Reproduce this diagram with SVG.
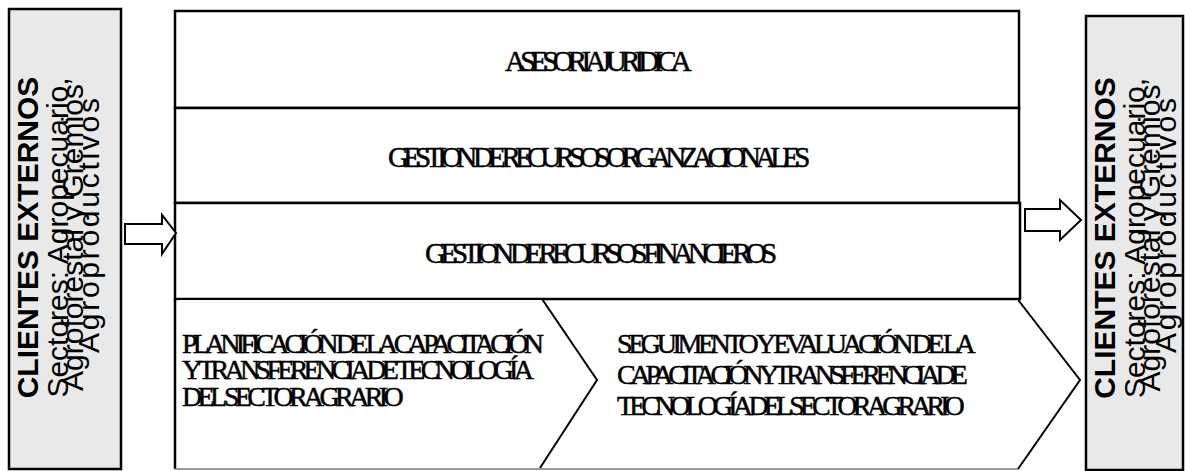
<svg xmlns="http://www.w3.org/2000/svg" width="1185" height="471" viewBox="0 0 1185 471">
  <style>
    .side { fill: #e9e9e9; stroke: #000; stroke-width: 2.5; }
    .frame { fill: #fff; stroke: #000; stroke-width: 2.5; }
    .chev { fill: #fff; stroke: #000; stroke-width: 2; }
    .base { stroke: #777; stroke-width: 1.5; fill: none; }
    .arrow { fill: #fff; stroke: #000; stroke-width: 2; stroke-linejoin: miter; }
    .proc { font-family: "Liberation Serif", "Times New Roman", serif; font-size: 29px; letter-spacing: -5.8px; fill: #000; stroke: #000; stroke-width: 0.5; }
    .step { font-family: "Liberation Serif", "Times New Roman", serif; font-size: 28px; fill: #000; stroke: #000; stroke-width: 0.5; }
    .title { font-family: "Liberation Sans", Arial, sans-serif; font-size: 30px; font-weight: bold; fill: #000; }
    .sub { font-family: "Liberation Sans", Arial, sans-serif; font-size: 30px; fill: #000; }
  </style>

  <!-- external clients, input side (text runs bottom to top; x = -screen y) -->
  <g id="clientes-entrada">
    <rect class="side" x="9" y="9" width="112" height="460"/>
    <g transform="rotate(-90)">
      <text class="title" x="-237.5" y="38" text-anchor="middle">CLIENTES EXTERNOS</text>
      <text class="sub" x="-237.5" y="68" text-anchor="middle">Sectores: Agropecuario,</text>
      <text class="sub" x="-237.5" y="83" text-anchor="middle">Agroforestal y Gremios</text>
      <text class="sub" x="-353" y="99" textLength="255" lengthAdjust="spacing">Agroproductivos</text>
    </g>
  </g>

  <!-- external clients, output side -->
  <g id="clientes-salida">
    <rect class="side" x="1086" y="16" width="97" height="454"/>
    <g transform="translate(1077,0) rotate(-90)">
      <text class="title" x="-238" y="38" text-anchor="middle">CLIENTES EXTERNOS</text>
      <text class="sub" x="-238" y="68" text-anchor="middle">Sectores: Agropecuario,</text>
      <text class="sub" x="-238" y="83" text-anchor="middle">Agroforestal y Gremios</text>
      <text class="sub" x="-353" y="99" textLength="255" lengthAdjust="spacing">Agroproductivos</text>
    </g>
  </g>

  <!-- support processes -->
  <g id="asesoria-juridica">
    <rect class="frame" x="175" y="11" width="844" height="97"/>
    <text class="proc" x="505" y="71" letter-spacing="-5.35">ASESORIA JURIDICA</text>
  </g>
  <g id="recursos-organizacionales">
    <rect class="frame" x="175" y="108" width="844" height="95"/>
    <text class="proc" x="388" y="167">GESTION DE RECURSOS ORGANZACIONALES</text>
  </g>
  <g id="recursos-financieros">
    <rect class="frame" x="175" y="203" width="845" height="96"/>
    <text class="proc" x="425" y="263">GESTION DE RECURSOS FINANCIEROS</text>
  </g>

  <!-- core process chain -->
  <g id="planificacion">
    <path class="chev" d="M175,299 L542,299 L597,380 L540,468"/>
    <line x1="175" y1="299" x2="175" y2="469" stroke="#000" stroke-width="2.5"/>
    <text class="step" x="182" y="353" letter-spacing="-4.85">PLANIFICACIÓN DE LA CAPACITACIÓN</text>
    <text class="step" x="182" y="379" letter-spacing="-4.72">Y TRANSFERENCIA DE TECNOLOGÍA</text>
    <text class="step" x="182" y="406" letter-spacing="-4.62">DEL SECTOR AGRARIO</text>
  </g>
  <g id="seguimiento">
    <path class="chev" d="M1019,301 L1080,380 L1018,469"/>
    <line x1="1019" y1="299" x2="1019" y2="302" stroke="#000" stroke-width="2"/>
    <text class="step" x="617" y="353" letter-spacing="-4.41">SEGUIMENTO Y EVALUACIÓN DE LA</text>
    <text class="step" x="617" y="384" letter-spacing="-5.2">CAPACITACIÓN Y TRANSFERENCIA DE</text>
    <text class="step" x="617" y="415" letter-spacing="-4.94">TECNOLOGÍA DEL SECTOR AGRARIO</text>
  </g>
  <line class="base" x1="175" y1="469" x2="1018" y2="469"/>

  <!-- flow arrows -->
  <g id="connectors">
    <path class="arrow" d="M125,224 L162,224 L162,215 L176,233 L162,254 L162,244 L125,244 Z"/>
    <path class="arrow" d="M1025,209 L1060,209 L1060,200 L1081,220 L1060,240 L1060,231 L1025,231 Z"/>
  </g>
</svg>
